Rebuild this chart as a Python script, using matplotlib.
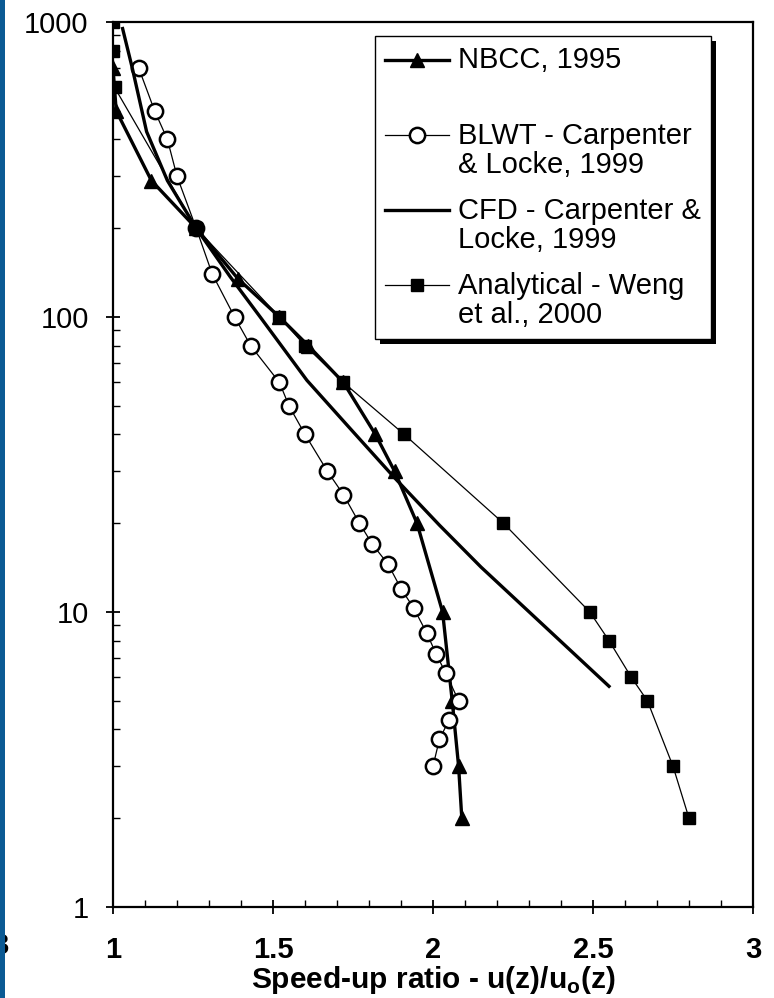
import numpy as np
import matplotlib.pyplot as plt
from matplotlib.ticker import MultipleLocator, LogLocator, FuncFormatter, NullFormatter
from matplotlib.legend_handler import HandlerLine2D
from matplotlib.lines import Line2D
from matplotlib.patches import Rectangle
from matplotlib.transforms import IdentityTransform

plt.rcParams['font.family'] = ['Liberation Sans', 'DejaVu Sans']
plt.rcParams['mathtext.fontset'] = 'custom'
plt.rcParams['mathtext.rm'] = 'Liberation Sans'
plt.rcParams['mathtext.bf'] = 'Liberation Sans:bold'

# NBCC, 1995 (triangulos)
nbcc_x = [1.0, 1.01, 1.12, 1.26, 1.39, 1.52, 1.61, 1.72, 1.82, 1.88, 1.95, 2.03, 2.06, 2.08, 2.09]
nbcc_y = [700, 500, 290, 200, 135, 100, 80, 60, 40, 30, 20, 10, 5, 3, 2]

# BLWT - Carpenter & Locke (circulos)
blwt_x = [1.08, 1.13, 1.17, 1.20, 1.26, 1.31, 1.38, 1.43, 1.52, 1.55, 1.60, 1.67, 1.72,
          1.77, 1.81, 1.86, 1.90, 1.94, 1.98, 2.01, 2.04, 2.08, 2.05, 2.02, 2.00]
blwt_y = [700, 500, 400, 300, 200, 140, 100, 80, 60, 50, 40, 30, 25,
          20, 17, 14.5, 12, 10.3, 8.5, 7.2, 6.2, 5, 4.3, 3.7, 3.0]

# CFD - Carpenter & Locke (linea continua)
cfd_x = [1.03, 1.06, 1.105, 1.17, 1.26, 1.366, 1.46, 1.606, 1.74, 1.88, 2.02, 2.15, 2.55]
cfd_y = [950, 700, 425, 290, 200, 137, 100, 61, 42, 28.5, 19.7, 14.2, 5.6]

# Analytical - Weng et al. (cuadrados)
weng_x = [1.0, 1.0, 1.005, 1.26, 1.52, 1.60, 1.72, 1.91, 2.22, 2.49, 2.55, 2.62, 2.67, 2.75, 2.80]
weng_y = [1000, 800, 600, 200, 100, 80, 60, 40, 20, 10, 8, 6, 5, 3, 2]

labels = ['NBCC, 1995\n ', 'BLWT - Carpenter\n& Locke, 1999',
          'CFD - Carpenter &\nLocke, 1999', 'Analytical - Weng\net al., 2000']

fs = 21
linesp = 1.05


class FirstLineHandler(HandlerLine2D):
    # pone la muestra a la altura de la primera linea del texto
    def create_artists(self, legend, orig_handle, xdescent, ydescent, width, height, fontsize, trans):
        arts = super().create_artists(legend, orig_handle, xdescent, ydescent,
                                      width, height, fontsize, trans)
        for a in arts:
            a.set_ydata(np.asarray(a.get_ydata()) + (0.45 * linesp + 0.07) * fontsize)
        return arts


fig = plt.figure(figsize=(7.74, 9.98), dpi=100)
ax = fig.add_axes([113 / 774, 1 - 907 / 998, 640 / 774, 885 / 998])

l1, = ax.plot(nbcc_x, nbcc_y, color='k', lw=2.4, marker='^', ms=10, mfc='k', mec='k')
l2, = ax.plot(blwt_x, blwt_y, color='k', lw=0.9, marker='o', ms=11, mfc='white', mec='k', mew=1.8)
l3, = ax.plot(cfd_x, cfd_y, color='k', lw=2.4)
l4, = ax.plot(weng_x, weng_y, color='k', lw=0.9, marker='s', ms=8, mfc='k', mec='k')

ax.set_yscale('log')
ax.set_xlim(1, 3)
ax.set_ylim(1, 1000)
ax.xaxis.set_major_locator(MultipleLocator(0.5))
ax.xaxis.set_minor_locator(MultipleLocator(0.1))
ax.xaxis.set_major_formatter(FuncFormatter(lambda v, p: f'{v:g}'))
ax.yaxis.set_major_formatter(FuncFormatter(lambda v, p: f'{v:g}'))
ax.yaxis.set_minor_locator(LogLocator(subs=np.arange(2, 10)))
ax.yaxis.set_minor_formatter(NullFormatter())
ax.tick_params(which='major', direction='inout', length=10, width=1.3, labelsize=fs)
ax.tick_params(which='minor', direction='in', length=5, width=1)
ax.tick_params(axis='x', pad=16)
ax.tick_params(axis='y', pad=12.5)
for lab in ax.get_xticklabels():
    lab.set_fontweight('bold')
for s in ax.spines.values():
    s.set_linewidth(1.6)

ax.set_xlabel(r'Speed-up ratio - u(z)/u$_\mathbf{o}$(z)', fontsize=21.5, fontweight='bold', labelpad=0)

leg = ax.legend([l1, l2, l3, l4], labels, loc='upper left', bbox_to_anchor=(0.409, 0.984),
                borderaxespad=0, fontsize=fs, fancybox=False, edgecolor='k', framealpha=1,
                handlelength=2.2, handletextpad=0.3, labelspacing=0.62, borderpad=0.35,
                handler_map={Line2D: FirstLineHandler()})
leg.get_frame().set_linewidth(1.0)
for t in leg.get_texts():
    t.set_linespacing(linesp)

# sombra negra de la leyenda
fig.canvas.draw()
bb = leg.get_window_extent()
ax.add_artist(Rectangle((bb.x0 + 5, bb.y0 - 5), bb.width, bb.height, transform=IdentityTransform(),
                        facecolor='k', edgecolor='none', zorder=leg.get_zorder() - 0.5))

# franja azul del borde y resto de etiqueta cortada
fig.text(9 / 774, 1 - 946 / 998, '3', fontsize=fs, fontweight='bold', ha='right', va='center')
fig.patches.append(Rectangle((0, 0), 5 / 774, 1, transform=fig.transFigure,
                             facecolor='#0b5a94', edgecolor='none', zorder=10))

fig.savefig('out.png', dpi=100)
